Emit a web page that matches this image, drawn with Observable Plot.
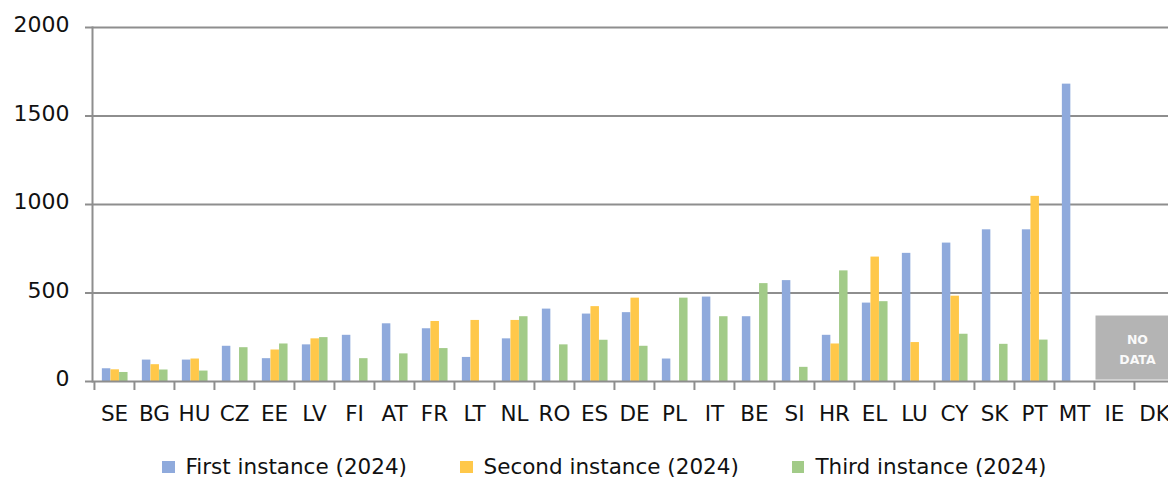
<!DOCTYPE html>
<html><head><meta charset="utf-8">
<script src="https://cdn.jsdelivr.net/npm/d3@7"></script>
<script src="https://cdn.jsdelivr.net/npm/@observablehq/plot@0.6"></script>
<style>
body{margin:0;background:#fff;font-family:"DejaVu Sans",sans-serif;}
#wrap{position:relative;width:1168px;height:477px;overflow:hidden;}
#legend{position:absolute;left:162px;top:456px;display:flex;align-items:center;font-size:21.5px;color:#111;white-space:nowrap;line-height:21px;}
.item{display:flex;align-items:center;margin-right:53px;}
.sw{width:12.5px;height:12px;margin-right:11px;}
</style></head><body><div id="wrap"></div>
<script>
const countries = ["SE","BG","HU","CZ","EE","LV","FI","AT","FR","LT","NL","RO","ES","DE","PL","IT","BE","SI","HR","EL","LU","CY","SK","PT","MT","IE","DK"];
const seriesNames = ["First instance (2024)","Second instance (2024)","Third instance (2024)"];
const seriesColors = ["#8faadc","#ffc84a","#a2cb88"];
const firstInstance  = [72,121,121,199,129,207,261,326,298,136,241,409,381,389,127,477,366,570,261,443,724,782,857,857,1680,null,null];
const secondInstance = [66,95,127,null,178,241,null,null,339,345,345,null,423,471,null,null,null,null,212,703,220,482,null,1046,null,null,null];
const thirdInstance  = [51,65,59,191,212,248,129,156,186,null,366,207,233,199,471,366,553,80,625,451,null,267,210,234,null,null,null];
const yTicks = [0,500,1000,1500,2000];
const noDataCountries = ["IE","DK"];
const noDataRange = [8,370];
const noDataLabel = "NO\nDATA";

const W = 1168, H = 440;
const xRange = [92, 1175];
const bw = (xRange[1]-xRange[0]) / countries.length;
const barW = 8.6;
const inset = (bw - barW) / 2;
const grid = "#8e8e8e";

const rows = [];
[firstInstance, secondInstance, thirdInstance].forEach((arr, s) => arr.forEach((v, i) => {
  if (v != null) rows.push({country: countries[i], series: seriesNames[s], value: v, s});
}));

const plot = Plot.plot({
  width: W, height: H,
  marginLeft: 92, marginRight: 0, marginTop: 27, marginBottom: 59,
  style: {fontFamily: "DejaVu Sans", background: "#fff", color: "#111"},
  x: {type: "band", domain: countries, range: xRange, padding: 0, label: null},
  y: {domain: [0, 2000], label: null},
  color: {domain: seriesNames, range: seriesColors},
  marks: [
    Plot.ruleY(yTicks.filter(d => d > 0), {stroke: grid, strokeWidth: 2}),
    ...seriesNames.map((name, s) => Plot.barY(rows.filter(r => r.s === s), {
      x: "country", y: "value", fill: "series",
      insetLeft: inset, insetRight: inset, dx: (s - 1) * barW + 0.7
    })),
    Plot.barY([noDataCountries[0]], {x: d => d, y1: () => noDataRange[0], y2: () => noDataRange[1],
      fill: "#b4b4b4", insetLeft: 1.5, insetRight: -bw}),
    Plot.text([noDataLabel], {x: () => noDataCountries[1], y: () => (noDataRange[0] + noDataRange[1]) / 2,
      text: d => d, dx: -bw/2 + 3, fill: "#fafafa", fontWeight: "bold", fontSize: 12.5, lineHeight: 1.6}),
    Plot.ruleY([0], {stroke: grid, strokeWidth: 2}),
    Plot.frame({anchor: "left", stroke: grid, strokeWidth: 2}),
    Plot.axisY({ticks: yTicks, tickSize: 7, tickFormat: () => "", stroke: grid, strokeWidth: 2, label: null}),
    Plot.axisY({ticks: yTicks, tickSize: 0, tickPadding: 23, dy: -2.5, fontSize: 22, fill: "#111",
      tickFormat: d3.format("d"), label: null}),
    Plot.axisX({tickSize: 9, tickFormat: () => "", dx: -bw/2, stroke: grid, strokeWidth: 2, label: null}),
    Plot.axisX({tickSize: 0, tickPadding: 24, fontSize: 21.5, fill: "#111", label: null})
  ]
});
const wrap = document.getElementById("wrap");
wrap.appendChild(plot);

const legend = document.createElement("div");
legend.id = "legend";
seriesNames.forEach((name, i) => {
  const item = document.createElement("div");
  item.className = "item";
  const sw = document.createElement("span");
  sw.className = "sw";
  sw.style.background = seriesColors[i];
  const t = document.createElement("span");
  t.textContent = name;
  item.appendChild(sw); item.appendChild(t);
  legend.appendChild(item);
});
wrap.appendChild(legend);
</script></body></html>
